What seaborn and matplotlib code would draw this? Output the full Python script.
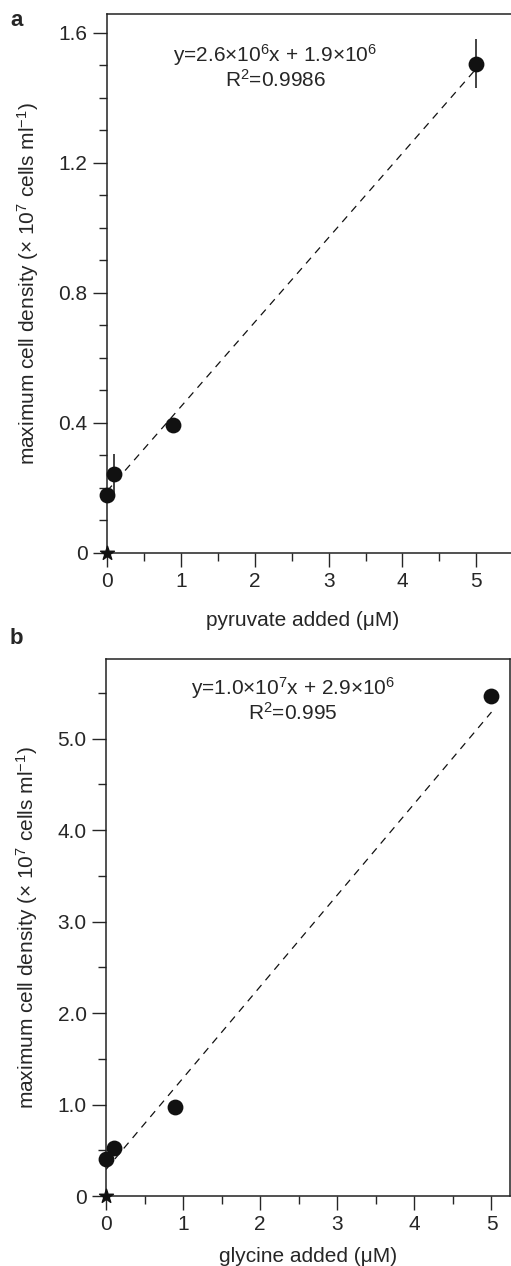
import numpy as np
import pandas as pd
import matplotlib
matplotlib.use("Agg")
import matplotlib.pyplot as plt
import seaborn as sns
from matplotlib.ticker import MultipleLocator

# panel a: pyruvate
pyr_x = [0, 0.1, 0.9, 5.0]
pyr_y = [0.178, 0.243, 0.394, 1.505]
pyr_err = [0.0, 0.06, 0.0, 0.075]
pyr_fit = [0.26, 0.19]  # slope, intercept in 10^7 cells/ml

# panel b: glycine
gly_x = [0, 0.1, 0.9, 5.0]
gly_y = [0.40, 0.52, 0.97, 5.47]
gly_err = [0.0, 0.0, 0.0, 0.0]
gly_fit = [1.0, 0.29]

control_x = [0]
control_y = [0]

sns.set_style("ticks")
plt.rcParams['font.family'] = ['Liberation Sans', 'DejaVu Sans']
plt.rcParams['mathtext.fontset'] = 'custom'
plt.rcParams['mathtext.rm'] = 'Liberation Sans'
plt.rcParams['mathtext.it'] = 'Liberation Sans:italic'
plt.rcParams['axes.linewidth'] = 1.1

FS = 15

fig = plt.figure(figsize=(5.11, 12.66), dpi=100)
ax_a = fig.add_axes([107 / 511, 1 - 553 / 1266, 404 / 511, 539 / 1266])
ax_b = fig.add_axes([106 / 511, 1 - 1196 / 1266, 404 / 511, 537 / 1266])

ylabel = r'maximum cell density (× 10$^{7}$ cells ml$^{-1}$)'


def draw_panel(ax, xs, ys, errs, fit, xlim, ylim, ymaj, ymin, xlabel, xlab_pos, eq, r2, txt_pos):
    df = pd.DataFrame({'x': xs, 'y': ys})
    xf = np.array([0, max(xs)])
    ax.plot(xf, fit[0] * xf + fit[1], ls=(0, (6, 5)), color='#111111', lw=0.9, zorder=2)
    ax.errorbar(xs, ys, yerr=errs, fmt='none', ecolor='#111111', elinewidth=1.1, zorder=3)
    sns.scatterplot(data=df, x='x', y='y', ax=ax, s=130, color='#111111',
                    edgecolor='#111111', linewidth=0, zorder=4, clip_on=False)
    ax.scatter(control_x, control_y, marker='*', s=110, color='#111111', zorder=5, clip_on=False)
    ax.set_xlim(*xlim)
    ax.set_ylim(*ylim)
    ax.xaxis.set_major_locator(MultipleLocator(1))
    ax.xaxis.set_minor_locator(MultipleLocator(0.5))
    ax.yaxis.set_major_locator(MultipleLocator(ymaj))
    ax.yaxis.set_minor_locator(MultipleLocator(ymin))
    ax.yaxis.set_major_formatter(plt.FuncFormatter(lambda v, p: '0' if abs(v) < 1e-9 else '{:.1f}'.format(v)))
    ax.tick_params(which='major', length=10, width=1.0, direction='out', labelsize=FS, pad=4)
    ax.tick_params(which='minor', length=5.5, width=1.0, direction='out')
    for s in ax.spines.values():
        s.set_color('#222222')
    ax.set_xlabel(xlabel, fontsize=FS)
    ax.xaxis.set_label_coords(*xlab_pos)
    ax.xaxis.label.set_va('center')
    ax.set_ylabel(ylabel, fontsize=FS)
    ax.yaxis.set_label_coords(-0.195, 0.5)
    ax.yaxis.label.set_va('center')
    ax.text(txt_pos[0], txt_pos[1], eq, transform=ax.transAxes, ha='center', va='center', fontsize=FS)
    ax.text(txt_pos[0], txt_pos[2], r2, transform=ax.transAxes, ha='center', va='center', fontsize=FS)


draw_panel(ax_a, pyr_x, pyr_y, pyr_err, pyr_fit, (0, 5.47), (0, 1.658), 0.4, 0.1,
           'pyruvate added (μM)', (0.483, -(620 - 553) / 539),
           r'y=2.6×10$^{6}$x + 1.9×10$^{6}$', r'R$^{2}$=0.9986',
           (0.416, (553 - 55) / 539, (553 - 80) / 539))
ax_a.spines['right'].set_visible(False)

draw_panel(ax_b, gly_x, gly_y, gly_err, gly_fit, (0, 5.24), (0, 5.87), 1.0, 0.5,
           'glycine added (μM)', (0.5, -(1257 - 1196) / 537),
           r'y=1.0×10$^{7}$x + 2.9×10$^{6}$', r'R$^{2}$=0.995',
           (0.462, (1196 - 688) / 537, (1196 - 713) / 537))

fig.text(10 / 511, 1 - 21 / 1266, 'a', fontsize=16, fontweight='bold', va='center', ha='left')
fig.text(10 / 511, 1 - 638 / 1266, 'b', fontsize=16, fontweight='bold', va='center', ha='left')

fig.savefig('out.png', dpi=100)
